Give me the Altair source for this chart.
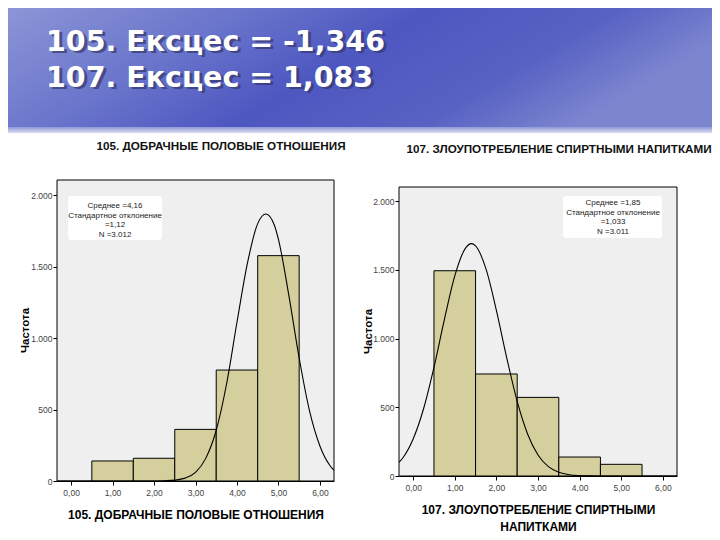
import altair as alt
import pandas as pd

# ---------------- data ----------------
header_lines = ["105. Ексцес = -1,346", "107. Ексцес = 1,083"]

y_title = "Частота"
x_ticks = [0, 1, 2, 3, 4, 5, 6]
y_ticks = [0, 500, 1000, 1500, 2000]

left_title = "105. ДОБРАЧНЫЕ ПОЛОВЫЕ ОТНОШЕНИЯ"
left_xtitle = "105. ДОБРАЧНЫЕ ПОЛОВЫЕ ОТНОШЕНИЯ"
left_centers = [1, 2, 3, 4, 5]
left_counts = [140, 159, 361, 776, 1576]
left_curve_x = [-0.34, 1.0, 2.0, 2.25, 2.5, 2.75, 3.0, 3.25, 3.5, 3.75, 4.0, 4.25,
                4.5, 4.7, 4.9, 5.0, 5.25, 5.5, 5.75, 6.0, 6.25, 6.34]
left_curve_y = [0, 0, 0, 2, 6, 20, 60, 160, 355, 680, 1110, 1520,
                1800, 1867, 1790, 1690, 1300, 860, 490, 245, 105, 75]
left_stats = ["Среднее =4,16", "Стандартное отклонение", "=1,12", "N =3.012"]

right_title = "107. ЗЛОУПОТРЕБЛЕНИЕ СПИРТНЫМИ НАПИТКАМИ"
right_xtitle = ["107. ЗЛОУПОТРЕБЛЕНИЕ СПИРТНЫМИ", "НАПИТКАМИ"]
right_centers = [1, 2, 3, 4, 5]
right_counts = [1493, 742, 572, 138, 85]
right_curve_x = [-0.34, -0.25, 0.0, 0.25, 0.5, 0.75, 1.0, 1.25, 1.4, 1.5, 1.75, 2.0,
                 2.25, 2.5, 2.75, 3.0, 3.25, 3.5, 3.75, 4.0, 4.25, 4.5, 5.5, 6.34]
right_curve_y = [100, 131, 269, 489, 790, 1137, 1455, 1654, 1690, 1674, 1506, 1205,
                 858, 543, 306, 153, 68, 27, 9, 3, 1, 0, 0, 0]
right_stats = ["Среднее =1,85", "Стандартное отклонение", "=1,033", "N =3.011"]

# ---------------- styling ----------------
SANS = "Liberation Sans"
BAR_FILL = "#d4cf9c"
PLOT_BG = "#efefef"
X_DOMAIN = [-0.34, 6.34]

one = pd.DataFrame({"k": [0]})


def histogram(centers, counts, cx, cy, stats, title, xtitle, lay, extra=None):
    w, h = lay["w"], lay["h"]
    xs = alt.Scale(domain=X_DOMAIN, nice=False, zero=False)
    ys = alt.Scale(domain=[0, lay["ymax"]], nice=False, zero=True)

    x_axis = alt.Axis(
        values=x_ticks,
        labelExpr="replace(format(datum.value, '.2f'), '.', ',')",
        title=xtitle, titleFont=SANS, titleFontSize=lay["xtfs"], titleFontWeight="bold",
        titleColor="black", titleX=w / 2, titleY=lay["xty"], titleBaseline="top",
        titleAlign="center", titleLineHeight=17,
        labelFont=SANS, labelFontSize=8.5, labelColor="#444", labelPadding=3,
        labelFlush=False, labelOverlap=False,
        tickSize=4, tickColor="black", domainColor="black", grid=False)
    y_axis = alt.Axis(
        values=y_ticks,
        labelExpr="replace(format(datum.value, ','), ',', '.')",
        title=y_title, titleFont=SANS, titleFontSize=11.5, titleFontWeight="bold",
        titleColor="black", titleX=lay["ytx"], titleY=lay["yty"], titleAngle=270,
        titleAlign="center", titleBaseline="middle",
        labelFont=SANS, labelFontSize=8.5, labelColor="#444", labelPadding=1,
        labelFlush=False, labelOverlap=False, domain=lay["ydomain"],
        tickSize=4, tickColor="black", domainColor="black", grid=False)

    layers = []
    if extra:
        layers.extend(extra)

    bg = alt.Chart(one).mark_rect(fill=PLOT_BG, stroke="black", strokeWidth=1).encode(
        x=alt.value(0), x2=alt.value(w), y=alt.value(lay["bgtop"]), y2=alt.value(h)
    )
    layers.append(bg)

    bars_df = pd.DataFrame({"c": centers, "n": counts})
    bars = alt.Chart(bars_df).transform_calculate(
        x0="datum.c - 0.5", x1="datum.c + 0.5"
    ).mark_rect(fill=BAR_FILL, stroke="black", strokeWidth=1).encode(
        x=alt.X("x0:Q", scale=xs, axis=x_axis),
        x2="x1:Q",
        y=alt.Y("n:Q", scale=ys, axis=y_axis),
        y2=alt.Y2(datum=0),
    )
    layers.append(bars)

    curve_df = pd.DataFrame({"x0": cx, "n": cy})
    curve = alt.Chart(curve_df).mark_line(
        color="black", strokeWidth=1.1, interpolate="monotone", clip=True
    ).encode(
        x=alt.X("x0:Q", scale=xs, axis=x_axis),
        y=alt.Y("n:Q", scale=ys, axis=y_axis),
    )
    layers.append(curve)

    box = alt.Chart(one).mark_rect(fill="white", cornerRadius=3).encode(
        x=alt.value(lay["bx0"]), x2=alt.value(lay["bx1"]),
        y=alt.value(lay["by0"]), y2=alt.value(lay["by1"]),
    )
    box_text = alt.Chart(one).mark_text(
        font=SANS, fontSize=8, lineHeight=9.5, align="center", baseline="top",
        color="#222"
    ).encode(text=alt.value(stats), x=alt.value(lay["tx"]), y=alt.value(lay["ty"]))

    ttl = alt.Chart(one).mark_text(
        font=SANS, fontSize=11.7, fontWeight="bold", align="center",
        baseline="alphabetic", color="#111"
    ).encode(text=alt.value(title), x=alt.value(lay["cx"]), y=alt.value(lay["cy"]))
    layers.extend([box, box_text, ttl])

    return alt.layer(*layers).properties(width=w, height=h)


# header (slide title on the blue sky), hung off the left panel
sky = alt.Chart(one).mark_rect(color={
    "gradient": "linear", "x1": 0, "x2": 1, "y1": 0, "y2": 0.3,
    "stops": [
        {"offset": 0.0, "color": "#8c95d6"},
        {"offset": 0.3, "color": "#6b76cc"},
        {"offset": 0.55, "color": "#4d57c0"},
        {"offset": 0.8, "color": "#5862c3"},
        {"offset": 1.0, "color": "#7c86cf"},
    ],
}).encode(x=alt.value(-49), x2=alt.value(655), y=alt.value(-172), y2=alt.value(-47))

band = alt.Chart(one).mark_rect(color={
    "gradient": "linear", "x1": 0, "x2": 0, "y1": 0, "y2": 1,
    "stops": [
        {"offset": 0.0, "color": "#8f97d8"},
        {"offset": 1.0, "color": "#dcdff3"},
    ],
}).encode(x=alt.value(-49), x2=alt.value(655), y=alt.value(-53), y2=alt.value(-47))

shadow = alt.Chart(one).mark_text(
    font="DejaVu Sans", fontSize=28.5, fontWeight="bold", align="left",
    baseline="alphabetic", lineHeight=36, color="#34386a", opacity=0.7
).encode(text=alt.value(header_lines), x=alt.value(-8), y=alt.value(-127))

head_text = alt.Chart(one).mark_text(
    font="DejaVu Sans", fontSize=28.5, fontWeight="bold", align="left",
    baseline="alphabetic", lineHeight=36, color="white"
).encode(text=alt.value(header_lines), x=alt.value(-11), y=alt.value(-129))

left = histogram(
    left_centers, left_counts, left_curve_x, left_curve_y, left_stats,
    left_title, left_xtitle,
    dict(w=277, h=301, ymax=2105, bgtop=0, ydomain=True, xtfs=12,
         xty=28, ytx=-32, yty=150, bx0=11, bx1=105, by0=16, by1=60, tx=58, ty=22,
         cx=164, cy=-30),
    extra=[sky, band, shadow, head_text],
)
right = histogram(
    right_centers, right_counts, right_curve_x, right_curve_y, right_stats,
    right_title, right_xtitle,
    dict(w=278, h=296, ymax=2153, bgtop=7, ydomain=False, xtfs=12,
         xty=28, ytx=-31, yty=151, bx0=164, bx1=263, by0=16, by1=58, tx=214, ty=19,
         cx=160, cy=-27),
)

chart = alt.hconcat(left, right, spacing=65, bounds="flush").properties(
    padding=0, background="white"
).configure_view(stroke=None, fill=None)

chart.save("out.html", embed_options={"renderer": "svg", "actions": False})
